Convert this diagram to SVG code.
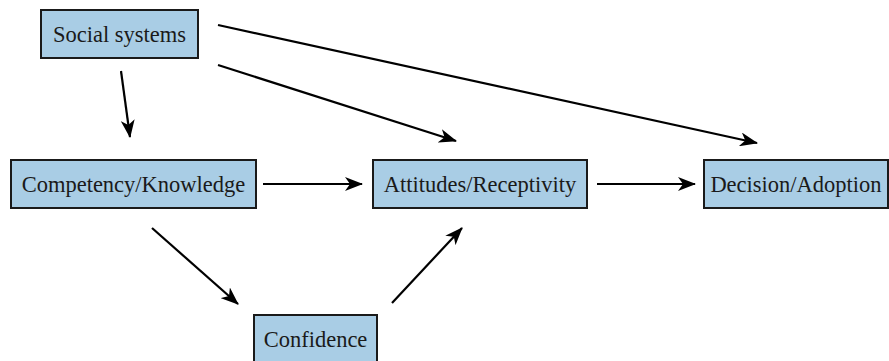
<svg xmlns="http://www.w3.org/2000/svg" width="889" height="361" viewBox="0 0 889 361">
<defs>
<style>
.box{fill:#a9cde5;stroke:#1a1a1a;stroke-width:2}
.lbl{font-family:"Liberation Serif","Times New Roman",serif;font-size:22.5px;fill:#1a1a1a;text-anchor:middle}
.ln{stroke:#000;stroke-width:2.2;fill:none;marker-end:url(#ah)}
</style>
<marker id="ah" viewBox="0 0 18 14" refX="17" refY="7" markerWidth="18" markerHeight="14" markerUnits="userSpaceOnUse" orient="auto">
<path d="M0,0 L18,7 L0,14 L5,7 Z" fill="#000"/>
</marker>
</defs>
<rect width="889" height="361" fill="#fff"/>
<g id="connectors">
<line class="ln" x1="121" y1="71" x2="130" y2="137"/>
<line class="ln" x1="218" y1="25" x2="757" y2="143"/>
<line class="ln" x1="218" y1="65" x2="456" y2="141"/>
<line class="ln" x1="263" y1="184" x2="362" y2="184"/>
<line class="ln" x1="597" y1="184" x2="695" y2="184"/>
<line class="ln" x1="152" y1="228" x2="238" y2="304"/>
<line class="ln" x1="392" y1="303" x2="462" y2="228"/>
</g>
<g id="social">
<rect class="box" x="41" y="10" width="157" height="48"/>
<text class="lbl" x="119.5" y="42">Social systems</text>
</g>
<g id="competency">
<rect class="box" x="11" y="160" width="245" height="48"/>
<text class="lbl" x="133.5" y="192">Competency/Knowledge</text>
</g>
<g id="attitudes">
<rect class="box" x="373" y="160" width="214" height="48"/>
<text class="lbl" x="480" y="192">Attitudes/Receptivity</text>
</g>
<g id="decision">
<rect class="box" x="704" y="160" width="184" height="48"/>
<text class="lbl" x="796" y="192">Decision/Adoption</text>
</g>
<g id="confidence">
<rect class="box" x="254" y="315" width="123" height="48"/>
<text class="lbl" x="315.5" y="347">Confidence</text>
</g>
</svg>
